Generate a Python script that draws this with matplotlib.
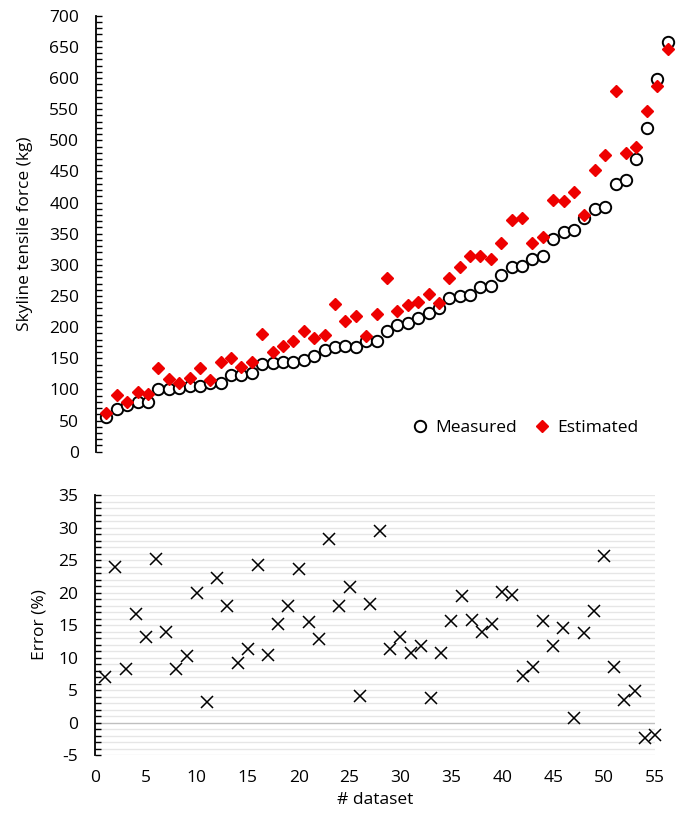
import numpy as np
import matplotlib.pyplot as plt
from matplotlib.ticker import MultipleLocator

plt.rcParams['font.family'] = ['Open Sans', 'DejaVu Sans']
plt.rcParams['axes.unicode_minus'] = False

# measured and estimated skyline tensile force (kg), datasets 1..55
measured = [56, 68, 75, 79, 79, 100, 100, 102, 105, 105.5,
            110, 110.5, 123, 123, 126, 141, 142, 144.5, 144.5, 147,
            153.6, 163, 168.5, 169, 168.5, 178, 178, 194, 203, 206,
            215, 223, 230, 247, 250, 251.5, 264, 266, 283.6, 297,
            298.6, 308.8, 314, 341, 353, 356, 376, 389.6, 393, 429.7,
            437, 470, 519, 599, 658]
estimated = [61.6, 91, 80, 96, 92, 134, 117, 110, 119, 135,
             115, 144.5, 151, 136.5, 143.5, 188.4, 160.5, 169.7, 178, 193.7,
             182, 187.3, 236.6, 209.8, 217.8, 185.7, 220.5, 278.3, 226, 235.5,
             240.8, 253, 239, 279, 297, 314, 314, 310, 335.5, 372,
             374.6, 334.5, 345, 404, 402.4, 417, 380, 453, 476, 579.5,
             479, 489.6, 547, 587.5, 646]
# error (%)
error = [6.95, 24.0, 8.2, 16.7, 13.1, 25.1, 14.0, 8.2, 10.2, 20.0,
         3.2, 22.3, 17.9, 9.2, 11.3, 24.3, 10.4, 15.2, 18.0, 23.6,
         15.5, 12.8, 28.2, 17.9, 20.9, 4.1, 18.3, 29.5, 11.3, 13.1,
         10.7, 11.8, 3.8, 10.7, 15.6, 19.5, 15.8, 13.9, 15.1, 20.1,
         19.6, 7.15, 8.6, 15.6, 11.8, 14.6, 0.64, 13.8, 17.15, 25.6,
         8.5, 3.46, 4.85, -2.34, -1.9]
dataset = np.arange(1, len(measured) + 1)

fig = plt.figure(figsize=(6.8, 8.13), dpi=100)
ax1 = fig.add_axes([96/680, 1 - 451.7/813, 584/680, 436/813])
ax2 = fig.add_axes([95/680, 1 - 755/813, 560/680, 260/813])

fs = 12.5

# top plot
ax1.plot(dataset, measured, 'o', mfc='white', mec='black', mew=1.4, ms=8.2,
         label='Measured', clip_on=False)
ax1.plot(dataset, estimated, 'D', color='#ee0000', mec='#ee0000', ms=6.4,
         label='Estimated', clip_on=False)
ax1.set_xlim(0, 56.2)
ax1.set_ylim(0, 700)
ax1.yaxis.set_major_locator(MultipleLocator(50))
ax1.yaxis.set_minor_locator(MultipleLocator(10))
for s in ['top', 'right', 'bottom']:
    ax1.spines[s].set_visible(False)
ax1.spines['left'].set_linewidth(1.3)
ax1.tick_params(axis='y', which='both', direction='in', length=4, width=1, labelsize=fs, pad=12)
ax1.tick_params(axis='x', which='both', bottom=False, labelbottom=False)
ax1.set_ylabel('Skyline tensile force (kg)', fontsize=fs, labelpad=12)
ax1.legend(loc='lower right', bbox_to_anchor=(0.955, 0.0), ncol=2, frameon=False,
           fontsize=fs, handletextpad=0.1, columnspacing=0.7, handlelength=1.5)

# bottom plot
ax2.set_xlim(0, 55)
ax2.set_ylim(-5, 35)
for v in np.arange(-5, 36, 1):
    ax2.axhline(v, color='#bfbfbf' if v == 0 else '#e6e6e6', lw=1, zorder=0)
ax2.plot(dataset, error, 'x', color='black', ms=9, mew=1.1, zorder=3, clip_on=False)
ax2.xaxis.set_major_locator(MultipleLocator(5))
ax2.yaxis.set_major_locator(MultipleLocator(5))
ax2.yaxis.set_minor_locator(MultipleLocator(1))
for s in ['top', 'right', 'bottom']:
    ax2.spines[s].set_visible(False)
ax2.spines['left'].set_linewidth(1.3)
ax2.tick_params(axis='y', which='both', direction='in', length=4, width=1, labelsize=fs, pad=12)
ax2.tick_params(axis='x', which='both', length=0, labelsize=fs, pad=11)
ax2.set_ylabel('Error (%)', fontsize=fs, labelpad=8)
ax2.set_xlabel('# dataset', fontsize=fs, labelpad=4)

fig.savefig('out.png', dpi=100)
